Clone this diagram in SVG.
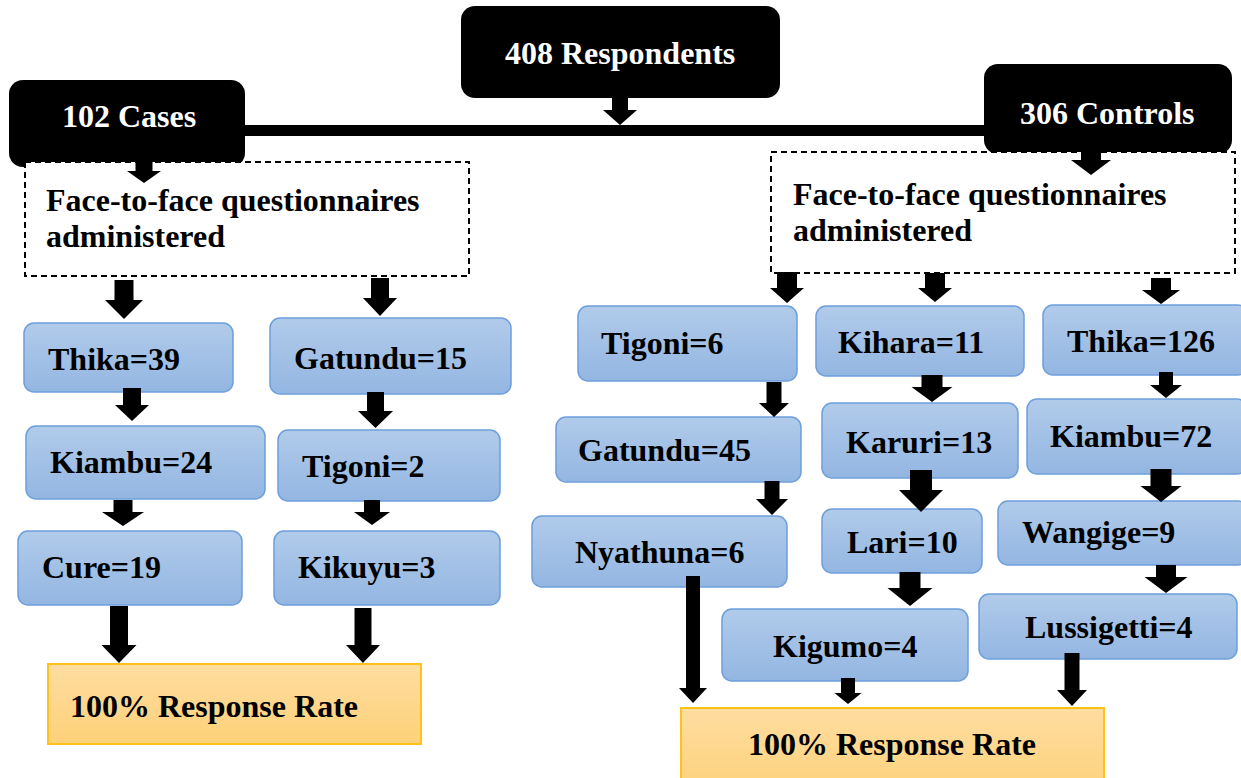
<svg xmlns="http://www.w3.org/2000/svg" width="1241" height="778" viewBox="0 0 1241 778">
<defs>
<linearGradient id="blue" x1="0" y1="0" x2="0" y2="1"><stop offset="0" stop-color="#B1CBEA"/><stop offset="1" stop-color="#93B6E2"/></linearGradient>
<linearGradient id="orange" x1="0" y1="0" x2="0" y2="1"><stop offset="0" stop-color="#FFDDA1"/><stop offset="1" stop-color="#FDD178"/></linearGradient>
</defs>
<style>
.blk{fill:#000}
.wt{fill:#fff;font-family:"Liberation Serif","Times New Roman",serif;font-weight:bold;font-size:32px}
.t{fill:#000;font-family:"Liberation Serif","Times New Roman",serif;font-weight:bold;font-size:32px}
.dash{fill:#fff;stroke:#000;stroke-width:2;stroke-dasharray:6 4}
.bl{fill:url(#blue);stroke:#6E9FDB;stroke-width:1.5}
.or{fill:url(#orange);stroke:#FFC21A;stroke-width:2}
.ar{fill:#000}
</style>
<rect width="1241" height="778" fill="#fff"/>
<g id="respondents"><rect class="blk" x="461" y="6" width="319" height="92" rx="14"/><text class="wt" x="505" y="64">408 Respondents</text></g>
<g id="cases"><rect class="blk" x="9" y="80" width="236" height="87" rx="14"/><text class="wt" x="62" y="127">102 Cases</text></g>
<g id="controls"><rect class="blk" x="984" y="64" width="248" height="90" rx="14"/><text class="wt" x="1020" y="124">306 Controls</text></g>
<g id="split-bar"><rect class="blk" x="244" y="125" width="742" height="11"/></g>
<g id="faceL"><rect class="dash" x="25" y="162" width="444" height="114"/><text class="t" x="46" y="211">Face-to-face questionnaires</text><text class="t" x="46" y="247">administered</text></g>
<g id="faceR"><rect class="dash" x="771" y="152" width="464" height="121"/><text class="t" x="793" y="205">Face-to-face questionnaires</text><text class="t" x="793" y="241">administered</text></g>
<g id="thika39"><rect class="bl" x="24" y="323" width="209" height="69" rx="10"/><text class="t" x="48" y="370">Thika=39</text></g>
<g id="gatundu15"><rect class="bl" x="270" y="318" width="241" height="76" rx="10"/><text class="t" x="294" y="369">Gatundu=15</text></g>
<g id="kiambu24"><rect class="bl" x="26" y="426" width="239" height="73" rx="10"/><text class="t" x="50" y="473">Kiambu=24</text></g>
<g id="tigoni2"><rect class="bl" x="278" y="430" width="222" height="71" rx="10"/><text class="t" x="302" y="477">Tigoni=2</text></g>
<g id="cure19"><rect class="bl" x="18" y="531" width="224" height="74" rx="10"/><text class="t" x="42" y="578">Cure=19</text></g>
<g id="kikuyu3"><rect class="bl" x="274" y="531" width="226" height="74" rx="10"/><text class="t" x="298" y="578">Kikuyu=3</text></g>
<g id="rrL"><rect class="or" x="48" y="664" width="373" height="80"/><text class="t" x="70" y="717">100% Response Rate</text></g>
<g id="tigoni6"><rect class="bl" x="578" y="306" width="219" height="75" rx="10"/><text class="t" x="601" y="354">Tigoni=6</text></g>
<g id="kihara11"><rect class="bl" x="816" y="306" width="208" height="70" rx="10"/><text class="t" x="838" y="353">Kihara=11</text></g>
<g id="thika126"><rect class="bl" x="1043" y="305" width="205" height="70" rx="10"/><text class="t" x="1067" y="352">Thika=126</text></g>
<g id="gatundu45"><rect class="bl" x="556" y="417" width="245" height="65" rx="10"/><text class="t" x="578" y="461">Gatundu=45</text></g>
<g id="karuri13"><rect class="bl" x="822" y="403" width="196" height="75" rx="10"/><text class="t" x="846" y="453">Karuri=13</text></g>
<g id="kiambu72"><rect class="bl" x="1027" y="399" width="220" height="75" rx="10"/><text class="t" x="1050" y="447">Kiambu=72</text></g>
<g id="nyathuna6"><rect class="bl" x="532" y="516" width="255" height="71" rx="10"/><text class="t" x="575" y="563">Nyathuna=6</text></g>
<g id="lari10"><rect class="bl" x="822" y="509" width="160" height="64" rx="10"/><text class="t" x="847" y="553">Lari=10</text></g>
<g id="wangige9"><rect class="bl" x="998" y="501" width="250" height="64" rx="10"/><text class="t" x="1022" y="543">Wangige=9</text></g>
<g id="kigumo4"><rect class="bl" x="722" y="609" width="246" height="72" rx="10"/><text class="t" x="773" y="657">Kigumo=4</text></g>
<g id="lussigetti4"><rect class="bl" x="979" y="594" width="258" height="65" rx="10"/><text class="t" x="1025" y="638">Lussigetti=4</text></g>
<g id="rrR"><rect class="or" x="681" y="708" width="423" height="90"/><text class="t" x="748" y="755">100% Response Rate</text></g>
<g id="connectors">
<polygon class="ar" points="612,98 628,98 628,110 637,110 620,125 603,110 612,110"/>
<polygon class="ar" points="135.5,160 152.5,160 152.5,171 161,171 144,183 127,171 135.5,171"/>
<polygon class="ar" points="1081,152 1101,152 1101,160 1111,160 1091,175 1071,160 1081,160"/>
<polygon class="ar" points="114.5,280 133.5,280 133.5,300 143,300 124,319 105,300 114.5,300"/>
<polygon class="ar" points="371,278 389,278 389,298 397,298 380,316 363,298 371,298"/>
<polygon class="ar" points="123,388 141,388 141,405 149,405 132,421 115,405 123,405"/>
<polygon class="ar" points="113.5,500 132.5,500 132.5,512 144,512 123,526 102,512 113.5,512"/>
<polygon class="ar" points="367,392 384,392 384,411 393,411 375.5,428 358,411 367,411"/>
<polygon class="ar" points="364,500 380,500 380,512 390,512 372,525 354,512 364,512"/>
<polygon class="ar" points="110,606 128,606 128,645 136.5,645 119,663 101.5,645 110,645"/>
<polygon class="ar" points="354.5,608 371.5,608 371.5,645 380,645 363,663 346,645 354.5,645"/>
<polygon class="ar" points="777,272 797,272 797,288 804,288 787,303 770,288 777,288"/>
<polygon class="ar" points="925,273 945,273 945,288 952,288 935,302 918,288 925,288"/>
<polygon class="ar" points="1151,278 1171,278 1171,290 1180,290 1161,304 1142,290 1151,290"/>
<polygon class="ar" points="766.5,382 781.5,382 781.5,403 789,403 774,417 759,403 766.5,403"/>
<polygon class="ar" points="764.5,481 779.5,481 779.5,499 788,499 772,515 756,499 764.5,499"/>
<polygon class="ar" points="686,576 700,576 700,688 707,688 693,703 679,688 686,688"/>
<polygon class="ar" points="921.5,375 942.5,375 942.5,387 952.5,387 932,402 911.5,387 921.5,387"/>
<polygon class="ar" points="910,470 932,470 932,490 943,490 921,512 899,490 910,490"/>
<polygon class="ar" points="899.5,572 920.5,572 920.5,588 932.5,588 910,606 887.5,588 899.5,588"/>
<polygon class="ar" points="841,678 855,678 855,693 861.5,693 848,704 834.5,693 841,693"/>
<polygon class="ar" points="1159,372 1173,372 1173,385 1182,385 1166,398 1150,385 1159,385"/>
<polygon class="ar" points="1150.5,469 1171.5,469 1171.5,486 1181.5,486 1161,502 1140.5,486 1150.5,486"/>
<polygon class="ar" points="1156,565 1176,565 1176,577 1187.5,577 1166,593 1144.5,577 1156,577"/>
<polygon class="ar" points="1064.5,653 1079.5,653 1079.5,690 1087,690 1072,706 1057,690 1064.5,690"/>
</g>
</svg>
